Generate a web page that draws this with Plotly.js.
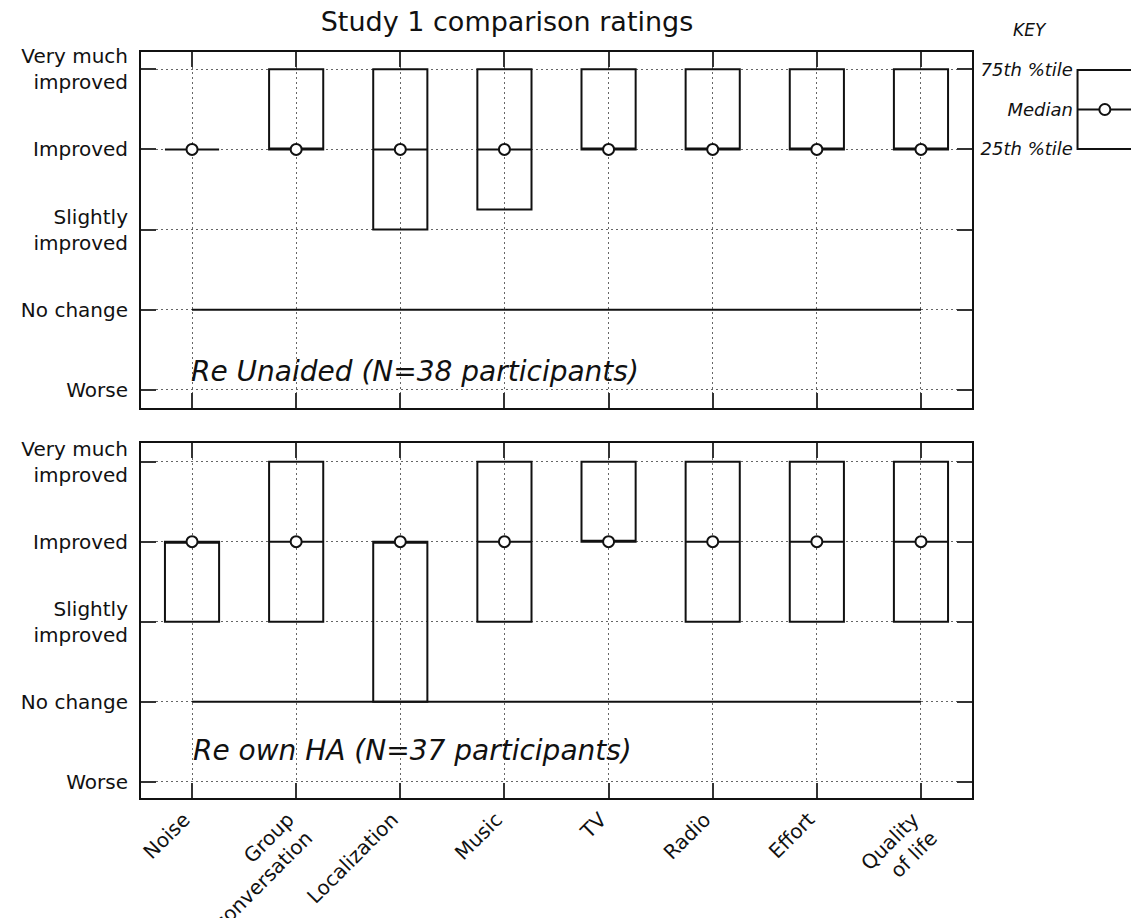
<!DOCTYPE html>
<html>
<head>
<meta charset="utf-8">
<script src="https://cdn.plot.ly/plotly-3.0.1.min.js"></script>
<style>html,body{margin:0;padding:0;background:#fff;}#chart{width:1131px;height:918px;}</style>
</head>
<body>
<div id="chart"></div>
<script>
// ---- data ----
const categories = ['Noise','Group conversation','Localization','Music','TV','Radio','Effort','Quality of life'];
const tickLabels = ['Noise','Group<br>conversation','Localization','Music','TV','Radio','Effort','Quality<br>of life'];
const ratingValues = [0, 1, 2, 3, 4];
const ratingLabels = ['Worse','No change','Slightly<br>improved','Improved','Very much<br>improved'];
const noChangeLevel = 1;

// Panel 1: Re Unaided (N=38)
const unaidedQ1     = [3, 3, 2, 2.25, 3, 3, 3, 3];
const unaidedMedian = [3, 3, 3, 3,    3, 3, 3, 3];
const unaidedQ3     = [3, 4, 4, 4,    4, 4, 4, 4];
// Panel 2: Re own HA (N=37)
const ownHAQ1     = [2, 2, 1, 2, 3, 2, 2, 2];
const ownHAMedian = [3, 3, 3, 3, 3, 3, 3, 3];
const ownHAQ3     = [3, 4, 3, 4, 4, 4, 4, 4];

const panelLabels = ['Re Unaided (N=38 participants)', 'Re own HA (N=37 participants)'];
const titleText = 'Study 1 comparison ratings';

// Key
const keyLabels = ['25th %tile', 'Median', '75th %tile'];
const keyValues = [0, 1, 2];

// ---- styles ----
const FONT = 'DejaVu Sans, sans-serif';
const INK = '#111';
const GRID_DASH = '2px,3px';

function boxTrace(q1, med, q3, xa, ya) {
  return {
    type: 'box', x: categories, q1: q1, median: med, q3: q3,
    lowerfence: q1, upperfence: q3,
    width: 0.52, whiskerwidth: 0, boxpoints: false,
    line: {color: INK, width: 2}, fillcolor: 'rgba(0,0,0,0)',
    xaxis: xa, yaxis: ya, hoverinfo: 'skip', showlegend: false
  };
}
function medianTrace(med, xa, ya) {
  return {
    type: 'scatter', mode: 'markers', x: categories, y: med,
    marker: {symbol: 'circle', size: 11, color: '#fff', line: {color: INK, width: 2}},
    xaxis: xa, yaxis: ya, hoverinfo: 'skip', showlegend: false, cliponaxis: false
  };
}
function noChangeTrace(xa, ya) {
  return {
    type: 'scatter', mode: 'lines',
    x: [categories[0], categories[categories.length - 1]],
    y: [noChangeLevel, noChangeLevel],
    line: {color: INK, width: 2},
    xaxis: xa, yaxis: ya, hoverinfo: 'skip', showlegend: false
  };
}

const data = [
  noChangeTrace('x', 'y'),
  boxTrace(unaidedQ1, unaidedMedian, unaidedQ3, 'x', 'y'),
  medianTrace(unaidedMedian, 'x', 'y'),
  noChangeTrace('x2', 'y2'),
  boxTrace(ownHAQ1, ownHAMedian, ownHAQ3, 'x2', 'y2'),
  medianTrace(ownHAMedian, 'x2', 'y2'),
  // key
  {
    type: 'box', x: [0], q1: [keyValues[0]], median: [keyValues[1]], q3: [keyValues[2]],
    lowerfence: [keyValues[0]], upperfence: [keyValues[2]],
    width: 0.52, whiskerwidth: 0, boxpoints: false,
    line: {color: INK, width: 2}, fillcolor: 'rgba(0,0,0,0)',
    xaxis: 'x3', yaxis: 'y3', hoverinfo: 'skip', showlegend: false
  },
  {
    type: 'scatter', mode: 'markers', x: [0], y: [keyValues[1]],
    marker: {symbol: 'circle', size: 11, color: '#fff', line: {color: INK, width: 2}},
    xaxis: 'x3', yaxis: 'y3', hoverinfo: 'skip', showlegend: false
  }
];

const xCommon = {
  type: 'category', categoryorder: 'array', categoryarray: categories,
  range: [-0.49, 7.49], domain: [0, 0.8394],
  tickvals: categories, ticktext: tickLabels,
  showline: true, linecolor: INK, linewidth: 2, mirror: 'ticks',
  ticks: 'inside', ticklen: 15, tickwidth: 2, tickcolor: '#333',
  showgrid: true, gridcolor: '#666', griddash: GRID_DASH, gridwidth: 1,
  zeroline: false, fixedrange: true
};
const yCommon = {
  tickvals: ratingValues, ticktext: ratingLabels,
  showline: true, linecolor: INK, linewidth: 2, mirror: 'ticks',
  ticks: 'inside', ticklen: 15, tickwidth: 2, tickcolor: '#333',
  showgrid: true, gridcolor: '#666', griddash: GRID_DASH, gridwidth: 1,
  zeroline: false, fixedrange: true,
  tickfont: {family: FONT, size: 20, color: INK},
  ticklabelstandoff: 7
};

const layout = {
  width: 1131, height: 918,
  margin: {l: 141, r: 0, t: 52, b: 120},
  paper_bgcolor: '#fff', plot_bgcolor: 'rgba(0,0,0,0)',
  showlegend: false,
  font: {family: FONT, color: INK},
  title: {
    text: titleText, font: {family: FONT, size: 27, color: INK},
    x: 0.4483, xref: 'container', xanchor: 'center',
    y: 0.976, yref: 'container', yanchor: 'middle'
  },
  xaxis: Object.assign({}, xCommon, {anchor: 'y', showticklabels: false}),
  xaxis2: Object.assign({}, xCommon, {anchor: 'y2', showticklabels: true, tickangle: -45,
    ticklabelshift: -8,
    tickfont: {family: FONT, size: 20, color: INK}}),
  yaxis: Object.assign({}, yCommon, {anchor: 'x', domain: [0.5228, 1], range: [-0.225, 4.215]}),
  yaxis2: Object.assign({}, yCommon, {anchor: 'x2', domain: [0, 0.4759], range: [-0.204, 4.234]}),
  xaxis3: {
    domain: [0.9444, 1], anchor: 'y3', range: [-0.275, 0.249],
    showline: false, showgrid: false, zeroline: false, showticklabels: false, ticks: '', fixedrange: true
  },
  yaxis3: {
    domain: [0.8552, 0.9893], anchor: 'x3', range: [-0.278, 2.253],
    tickvals: keyValues, ticktext: keyLabels,
    showline: false, showgrid: false, zeroline: false, ticks: '', fixedrange: true,
    tickfont: {family: FONT, size: 18, color: INK, style: 'italic'},
    ticklabelstandoff: 2
  },
  annotations: [
    {text: panelLabels[0], xref: 'x', yref: 'y', x: 0, y: 0, xanchor: 'left', yanchor: 'bottom',
     xshift: -3, showarrow: false, font: {family: FONT, size: 28, color: INK, style: 'italic'}},
    {text: panelLabels[1], xref: 'x2', yref: 'y2', x: 0, y: 0.16, xanchor: 'left', yanchor: 'bottom',
     xshift: -1, showarrow: false, font: {family: FONT, size: 28, color: INK, style: 'italic'}},
    {text: 'KEY', xref: 'paper', yref: 'paper', x: 0.898, y: 1.0295, xanchor: 'center', yanchor: 'middle',
     showarrow: false, font: {family: FONT, size: 17, color: INK, style: 'italic'}}
  ]
};

Plotly.newPlot('chart', data, layout, {staticPlot: true, displayModeBar: false});
</script>
</body>
</html>
